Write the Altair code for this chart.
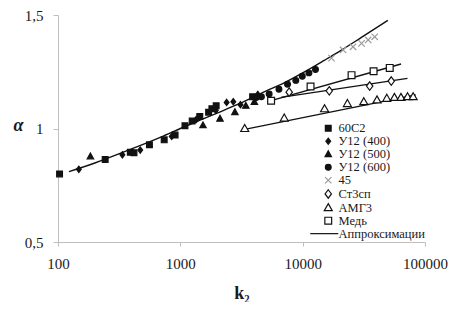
import altair as alt
import pandas as pd

# ---------------- data ----------------
series_names = ["60С2", "У12 (400)", "У12 (500)", "У12 (600)", "45", "Ст3сп", "АМГ3", "Медь", "Аппроксимации"]

k_60c2 = [103, 243, 390, 418, 559, 738, 906, 1091, 1250, 1442, 1703, 1811, 1963, 3900]
a_60c2 = [0.80, 0.863, 0.895, 0.893, 0.928, 0.950, 0.971, 1.012, 1.033, 1.053, 1.072, 1.087, 1.100, 1.140]

k_u400 = [148, 336, 470, 850, 1350, 1950, 2390, 2710, 3100, 4300]
a_u400 = [0.82, 0.884, 0.905, 0.965, 1.040, 1.080, 1.115, 1.118, 1.105, 1.150]

k_u500 = [184, 1532, 2110, 2793, 3427, 4027]
a_u500 = [0.877, 1.014, 1.043, 1.072, 1.100, 1.117]

k_u600 = [4180, 4600, 5320, 6400, 7520, 8790, 9930, 11250, 12730]
a_u600 = [1.137, 1.140, 1.152, 1.173, 1.195, 1.212, 1.230, 1.245, 1.260]

k_45 = [17200, 21400, 25800, 30300, 34300, 38800]
a_45 = [1.310, 1.346, 1.360, 1.375, 1.390, 1.404]

k_st3 = [7760, 16500, 35300, 53000]
a_st3 = [1.160, 1.166, 1.187, 1.209]

k_amg = [3360, 7070, 15100, 23200, 31600, 40500, 48700, 56200, 63600, 72000, 80000]
a_amg = [1.000, 1.046, 1.087, 1.110, 1.118, 1.126, 1.133, 1.137, 1.137, 1.140, 1.140]

k_cu = [5520, 11600, 25100, 38000, 51500]
a_cu = [1.122, 1.185, 1.235, 1.252, 1.267]

# approximation curves
k_fit_main = [123, 200, 400, 700, 1000, 1500, 2000, 3000, 5000, 7000, 10000, 15000, 20000, 30000, 49700]
a_fit_main = [0.810, 0.848, 0.910, 0.963, 1.000, 1.040, 1.068, 1.108, 1.165, 1.200, 1.245, 1.300, 1.340, 1.400, 1.476]
k_fit_st3 = [6650, 71900]
a_fit_st3 = [1.137, 1.221]
k_fit_cu = [5520, 63700]
a_fit_cu = [1.123, 1.284]
k_fit_amg = [3360, 84100]
a_fit_amg = [0.996, 1.148]

# ---------------- tables ----------------
pts = []
for name, ks, As in [
    ("60С2", k_60c2, a_60c2), ("У12 (400)", k_u400, a_u400), ("У12 (500)", k_u500, a_u500),
    ("У12 (600)", k_u600, a_u600), ("45", k_45, a_45), ("Ст3сп", k_st3, a_st3),
    ("АМГ3", k_amg, a_amg), ("Медь", k_cu, a_cu)]:
    for k, a in zip(ks, As):
        pts.append({"series": name, "k": k, "alpha": a})
df_pts = pd.DataFrame(pts)

fits = []
for gid, ks, As in [("main", k_fit_main, a_fit_main), ("st3", k_fit_st3, a_fit_st3),
                    ("cu", k_fit_cu, a_fit_cu), ("amg", k_fit_amg, a_fit_amg)]:
    for k, a in zip(ks, As):
        fits.append({"grp": gid, "k": k, "alpha": a})
df_fit = pd.DataFrame(fits)

# ---------------- styling ----------------
FONT = "Liberation Serif"
TXT = "#1a1a1a"
AX = "#bfbfbf"

shapes = [
    "M-0.72,-0.72H0.72V0.72H-0.72Z",               # filled square
    "M0,-0.78L0.6,0L0,0.78L-0.6,0Z",               # small filled diamond
    "M0,-0.85L0.8,0.6H-0.8Z",                      # filled triangle
    "M-0.72,0A0.72,0.72 0 1,0 0.72,0A0.72,0.72 0 1,0 -0.72,0Z",  # circle
    "M-0.8,-0.8L0.8,0.8M-0.8,0.8L0.8,-0.8",        # x cross
    "M0,-1.05L0.8,0L0,1.05L-0.8,0Z",               # open diamond
    "M0,-1L1,0.75H-1Z",                            # open triangle
    "M-0.85,-0.85H0.85V0.85H-0.85Z",               # open square
    "M-4.5,0H2.5",                                 # line
]
fills = ["#111111", "#111111", "#111111", "#111111", "#ffffff", "#ffffff", "#ffffff", "#ffffff", "#ffffff"]
strokes = ["#111111", "#111111", "#111111", "#111111", "#9a9a9a", "#111111", "#111111", "#111111", "#111111"]

leg = alt.Legend(
    title=None, orient="none", legendX=264, legendY=107,
    labelFont=FONT, labelFontSize=12.5, labelColor=TXT, labelOffset=4,
    symbolSize=64, symbolStrokeWidth=1.2, symbolOpacity=1, rowPadding=-0.3, padding=0,
)

xs = alt.Scale(type="log", domain=[100, 100000])
ys = alt.Scale(domain=[0.5, 1.5], nice=False, zero=False)

x_axis = alt.Axis(
    values=[100, 1000, 10000, 100000], format="d", grid=False,
    labelOverlap=False, labelFlush=False, labelBound=False,
    domainColor=AX, tickColor=AX, tickSize=4,
    labelFont=FONT, labelFontSize=15, labelColor=TXT, labelPadding=10,
    title="k₂", titleFont=FONT, titleFontSize=18, titleFontWeight="bold", titleColor=TXT,
    titleBaseline="alphabetic", titleY=56,
)
y_axis = alt.Axis(
    values=[0.5, 1, 1.5], grid=False, labelOverlap=False, labelFlush=False,
    domainColor=AX, tickColor=AX, tickSize=5,
    labelFont=FONT, labelFontSize=15, labelColor=TXT, labelPadding=10,
    labelExpr="replace(toString(datum.value), '.', ',')",
    title="α", titleFont=FONT, titleFontSize=18, titleFontWeight="bold", titleFontStyle="italic",
    titleColor=TXT, titleAngle=0, titleX=-40, titleY=110, titleAlign="center", titleBaseline="middle",
)

lines = alt.Chart(df_fit).mark_line(color="#111111", strokeWidth=1.4, interpolate="monotone").encode(
    x=alt.X("k:Q", scale=xs, axis=x_axis),
    y=alt.Y("alpha:Q", scale=ys, axis=y_axis),
    detail="grp:N",
)

points = alt.Chart(df_pts).mark_point(filled=True, size=64, opacity=1, strokeWidth=1.2).encode(
    x=alt.X("k:Q", scale=xs),
    y=alt.Y("alpha:Q", scale=ys),
    shape=alt.Shape("series:N", scale=alt.Scale(domain=series_names, range=shapes), legend=leg),
    fill=alt.Fill("series:N", scale=alt.Scale(domain=series_names, range=fills), legend=leg),
    stroke=alt.Stroke("series:N", scale=alt.Scale(domain=series_names, range=strokes), legend=leg),
)

chart = alt.layer(lines, points).properties(
    width=367, height=227,
    padding={"left": 50, "top": 7, "right": 23, "bottom": 60},
    autosize=alt.AutoSizeParams(type="none"),
    background="white",
).configure_view(stroke=None)

chart.save("out.html", embed_options={"renderer": "svg", "actions": False})
